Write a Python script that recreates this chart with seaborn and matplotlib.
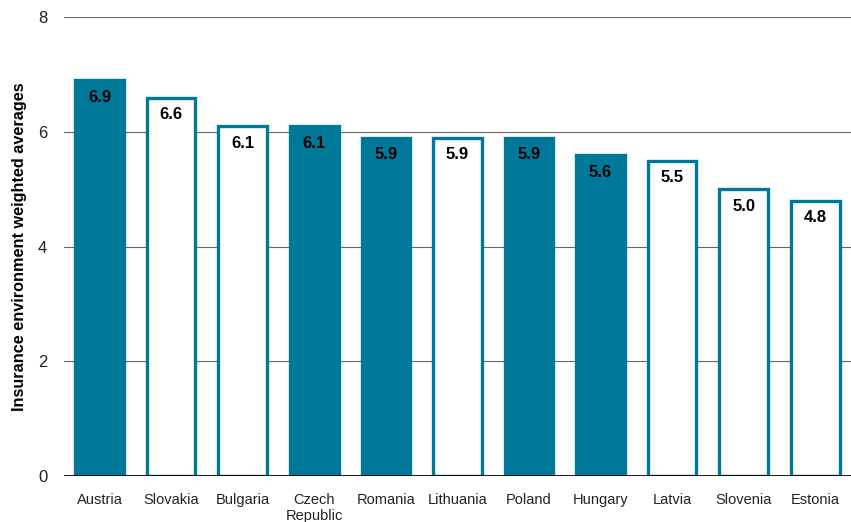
import matplotlib
matplotlib.use("Agg")
import matplotlib.pyplot as plt
import seaborn as sns
import pandas as pd

countries = ["Austria", "Slovakia", "Bulgaria", "Czech\nRepublic", "Romania",
             "Lithuania", "Poland", "Hungary", "Latvia", "Slovenia", "Estonia"]
scores = [6.9, 6.6, 6.1, 6.1, 5.9, 5.9, 5.9, 5.6, 5.5, 5.0, 4.8]
styles = ["filled", "outline", "outline", "filled", "filled",
          "outline", "filled", "filled", "outline", "outline", "outline"]
yticks = [0, 2, 4, 6, 8]

TEAL = "#00789A"

sns.set_theme(style="white")
plt.rcParams["font.family"] = ["Liberation Sans", "DejaVu Sans"]

df = pd.DataFrame({"country": countries, "score": scores, "style": styles})

fig = plt.figure(figsize=(8.51, 5.22), dpi=100)
ax = fig.add_axes([0.075, 0.088, 0.925, 0.879])

sns.barplot(data=df, x="country", y="score", hue="style", dodge=False,
            palette={"filled": TEAL, "outline": "white"}, saturation=1,
            edgecolor=TEAL, linewidth=2.4, width=0.68, legend=False, ax=ax,
            zorder=3)

ax.set_ylim(0, 8)
ax.set_yticks(yticks)
ax.set_yticklabels([str(t) for t in yticks], fontsize=12, color="#222222")
ax.tick_params(axis="x", labelsize=10.5, colors="#222222", length=0, pad=12)
ax.tick_params(axis="y", length=0, pad=12)
ax.set_xlim(-0.5, len(countries) - 0.5)

for t in yticks[1:]:
    ax.axhline(t, color="#666666", linewidth=0.8, zorder=1)
ax.axhline(0, color="black", linewidth=2, zorder=4)

for sp in ax.spines.values():
    sp.set_visible(False)

ax.set_xlabel("")
ax.set_ylabel("Insurance environment weighted averages", fontsize=11.7,
              fontweight="bold", color="black", labelpad=8)

for i, v in enumerate(scores):
    ax.text(i, v - 0.3, f"{v:.1f}", ha="center", va="center", fontsize=12,
            fontweight="bold", color="black", zorder=5)

fig.savefig("out.png", dpi=100)
